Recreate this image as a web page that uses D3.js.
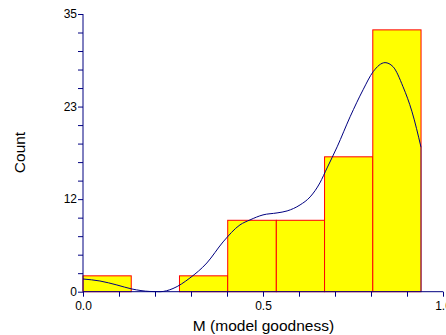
<!DOCTYPE html>
<html>
<head>
<meta charset="utf-8">
<script src="https://cdn.jsdelivr.net/npm/d3@7"></script>
<style>
  body { margin: 0; background: #fff; }
  svg { display: block; font-family: "Liberation Sans", Arial, sans-serif; }
</style>
</head>
<body>
<svg id="chart" width="446" height="335"></svg>
<script>
// Histogram bins of M (model goodness): lower edge, upper edge, count
const binStarts = [0.000, 0.134, 0.268, 0.402, 0.537, 0.671, 0.805];
const binEnds   = [0.134, 0.268, 0.402, 0.537, 0.671, 0.805, 0.939];
const counts    = [2, 0, 2, 9, 9, 17, 33];

// Smoothed density curve, scaled to counts
const curveX = [0.000, 0.047, 0.094, 0.136, 0.186, 0.214, 0.250, 0.297, 0.344, 0.389,
                0.436, 0.464, 0.500, 0.539, 0.567, 0.603, 0.631, 0.658, 0.678, 0.706,
                0.742, 0.778, 0.806, 0.839, 0.861, 0.889, 0.914, 0.939];
const curveY = [1.60, 1.35, 0.85, 0.34, 0.03, 0.00, 0.40, 1.73, 3.62, 6.27,
                8.42, 9.05, 9.68, 9.93, 10.18, 10.94, 11.95, 13.71, 15.60, 18.26,
                22.05, 25.45, 27.73, 28.87, 28.37, 25.83, 22.67, 18.20];

// Axis ticks
const xMajor = [0, 0.5, 1.0];
const xMajorLabels = ["0.0", "0.5", "1.0"];
const yMajor = [0, 35 / 3, 70 / 3, 35];
const yMajorLabels = ["0", "12", "23", "35"];

const svg = d3.select("#chart");
const plotL = 83, plotR = 443, plotT = 14, plotB = 291.7;

const x = d3.scaleLinear().domain([0, 1]).range([plotL, plotR]);
const y = d3.scaleLinear().domain([0, 35]).range([plotB, plotT]);

const axisColor = "#000080";

// Bars
svg.append("g").selectAll("rect")
  .data(counts)
  .join("rect")
  .attr("x", (d, i) => x(binStarts[i]))
  .attr("y", d => y(d))
  .attr("width", (d, i) => x(binEnds[i]) - x(binStarts[i]))
  .attr("height", d => y(0) - y(d))
  .attr("fill", "#ffff00")
  .attr("stroke", "#ff0000")
  .attr("stroke-width", 1);

// Density curve, dropped to the baseline at the last bin edge
const pts = curveX.map((v, i) => [x(v), y(curveY[i])]);
const line = d3.line().curve(d3.curveMonotoneX);
svg.append("path")
  .attr("d", line(pts))
  .attr("fill", "none")
  .attr("stroke", axisColor)
  .attr("stroke-width", 1);
const lastX = x(curveX[curveX.length - 1]);
svg.append("line")
  .attr("x1", lastX).attr("x2", lastX)
  .attr("y1", y(curveY[curveY.length - 1])).attr("y2", y(0))
  .attr("stroke", axisColor).attr("stroke-opacity", 0.6).attr("stroke-width", 1);

// X axis
const xAxis = d3.axisBottom(x)
  .tickValues(d3.range(0, 1.0001, 0.1))
  .tickSize(5)
  .tickFormat(d => {
    const k = xMajor.findIndex(m => Math.abs(m - d) < 1e-6);
    return k >= 0 ? xMajorLabels[k] : "";
  });
const gx = svg.append("g").attr("transform", `translate(0,${plotB})`).call(xAxis);

// Y axis
const yAxis = d3.axisLeft(y)
  .tickValues(d3.range(0, 15.5).map(i => i * 35 / 15))
  .tickSize(5)
  .tickFormat(d => {
    const k = yMajor.findIndex(m => Math.abs(m - d) < 1e-6);
    return k >= 0 ? yMajorLabels[k] : "";
  });
const gy = svg.append("g").attr("transform", `translate(${plotL},0)`).call(yAxis);

[gx, gy].forEach(g => {
  g.select(".domain").remove();
  g.selectAll(".tick line").attr("stroke", axisColor);
  g.selectAll("text").attr("fill", "#000").style("font-size", "12px")
    .style("font-family", "'Liberation Sans', Arial, sans-serif");
});
svg.append("line").attr("x1", plotL).attr("x2", plotR).attr("y1", plotB).attr("y2", plotB)
  .attr("stroke", axisColor);
svg.append("line").attr("x1", plotL).attr("x2", plotL).attr("y1", plotT).attr("y2", plotB)
  .attr("stroke", axisColor);
gx.selectAll("text").attr("dy", null).attr("y", 18);
gy.selectAll("text").attr("x", -6);

// Axis titles
svg.append("text")
  .attr("x", 263.5).attr("y", 331)
  .attr("text-anchor", "middle")
  .style("font-size", "15.5px")
  .text("M (model goodness)");
svg.append("text")
  .attr("transform", "translate(25,152.5) rotate(-90)")
  .attr("text-anchor", "middle")
  .style("font-size", "15.5px")
  .text("Count");
</script>
</body>
</html>
